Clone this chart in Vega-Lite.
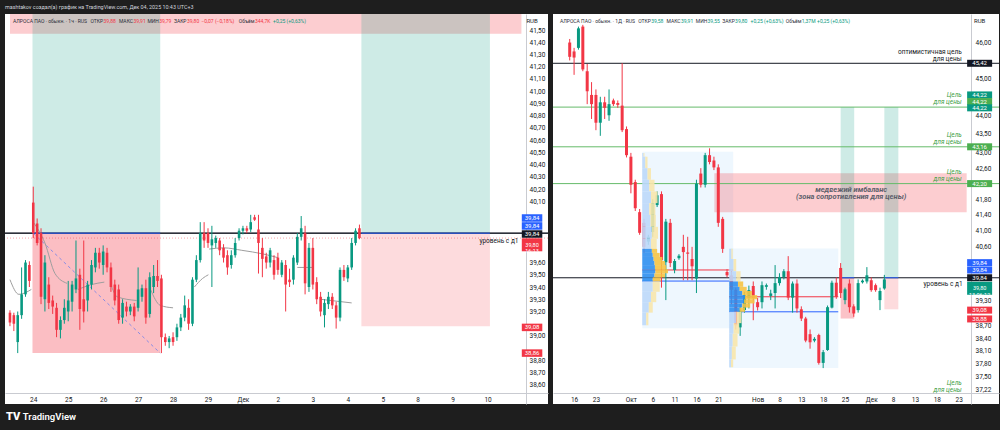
{
"$schema": "https://vega.github.io/schema/vega-lite/v6.json",
"background": "#1e1e1e",
"padding": {"left": 4, "right": 4, "top": 0, "bottom": 0},
"config": {"view": {"stroke": null}, "font": "Roboto", "axis": {"minExtent": 0, "labelFont": "Roboto"}, "text": {"font": "Roboto"}},
"datasets": {
"lc": [
{"j":-6,"o":39.19,"h":39.21,"l":39.08,"c":39.11},{"j":-5,"o":39.17,"h":39.19,"l":39.04,"c":39.10},{"j":-4,"o":38.95,"h":39.20,"l":38.86,"c":39.17},{"j":-3,"o":39.17,"h":39.56,"l":39.14,"c":39.34},{"j":-2,"o":39.34,"h":39.62,"l":39.32,"c":39.60},{"j":-1,"o":39.58,"h":39.61,"l":39.40,"c":39.45},
{"j":0,"o":40.09,"h":40.22,"l":39.80,"c":39.84},{"j":1,"o":39.92,"h":39.96,"l":39.74,"c":39.76},{"j":2,"o":39.84,"h":39.88,"l":39.26,"c":39.32},{"j":3,"o":39.30,"h":39.66,"l":39.20,"c":39.60},{"j":4,"o":39.42,"h":39.48,"l":39.22,"c":39.27},{"j":5,"o":39.29,"h":39.33,"l":39.18,"c":39.24},{"j":6,"o":39.23,"h":39.27,"l":38.99,"c":39.05},{"j":7,"o":39.05,"h":39.16,"l":38.98,"c":39.13},{"j":8,"o":39.13,"h":39.30,"l":39.10,"c":39.23},
{"j":9,"o":39.20,"h":39.45,"l":39.12,"c":39.29},{"j":10,"o":39.28,"h":39.45,"l":39.20,"c":39.42},{"j":11,"o":39.38,"h":39.78,"l":39.35,"c":39.47},{"j":12,"o":39.50,"h":39.55,"l":39.05,"c":39.22},{"j":13,"o":39.30,"h":39.78,"l":39.11,"c":39.20},{"j":14,"o":39.29,"h":39.45,"l":39.20,"c":39.42},{"j":15,"o":39.42,"h":39.62,"l":39.38,"c":39.58},{"j":16,"o":39.56,"h":39.72,"l":39.52,"c":39.68},{"j":17,"o":39.68,"h":39.72,"l":39.55,"c":39.60},
{"j":18,"o":39.58,"h":39.74,"l":39.50,"c":39.69},{"j":19,"o":39.68,"h":39.72,"l":39.52,"c":39.56},{"j":20,"o":39.56,"h":39.60,"l":39.36,"c":39.40},{"j":21,"o":39.42,"h":39.46,"l":39.25,"c":39.29},{"j":22,"o":39.38,"h":39.42,"l":39.10,"c":39.13},{"j":23,"o":39.15,"h":39.30,"l":39.10,"c":39.27},{"j":24,"o":39.24,"h":39.28,"l":39.16,"c":39.20},{"j":25,"o":39.20,"h":39.26,"l":39.17,"c":39.24},{"j":26,"o":39.24,"h":39.27,"l":39.12,"c":39.16},
{"j":27,"o":39.23,"h":39.56,"l":39.20,"c":39.38},{"j":28,"o":39.32,"h":39.42,"l":39.28,"c":39.39},{"j":29,"o":39.39,"h":39.46,"l":39.10,"c":39.15},{"j":30,"o":39.18,"h":39.52,"l":39.15,"c":39.48},{"j":31,"o":39.40,"h":39.58,"l":39.35,"c":39.49},{"j":32,"o":39.49,"h":39.62,"l":39.40,"c":39.45},{"j":33,"o":39.47,"h":39.50,"l":38.86,"c":38.99},{"j":34,"o":38.99,"h":39.02,"l":38.92,"c":38.95},{"j":35,"o":38.95,"h":39.00,"l":38.90,"c":38.98},
{"j":36,"o":38.99,"h":39.03,"l":38.92,"c":38.95},{"j":37,"o":38.99,"h":39.10,"l":38.96,"c":39.07},{"j":38,"o":39.07,"h":39.18,"l":39.04,"c":39.15},{"j":39,"o":39.15,"h":39.33,"l":39.12,"c":39.25},{"j":40,"o":39.23,"h":39.30,"l":39.05,"c":39.10},{"j":41,"o":39.10,"h":39.48,"l":39.08,"c":39.46},{"j":42,"o":39.46,"h":39.66,"l":39.44,"c":39.62},{"j":43,"o":39.62,"h":39.93,"l":39.60,"c":39.84},{"j":44,"o":39.84,"h":39.93,"l":39.72,"c":39.78},
{"j":45,"o":39.84,"h":39.88,"l":39.72,"c":39.76},{"j":46,"o":39.74,"h":39.90,"l":39.40,"c":39.79},{"j":47,"o":39.76,"h":39.82,"l":39.72,"c":39.80},{"j":48,"o":39.78,"h":39.80,"l":39.66,"c":39.70},{"j":49,"o":39.72,"h":39.75,"l":39.60,"c":39.64},{"j":50,"o":39.66,"h":39.70,"l":39.50,"c":39.56},{"j":51,"o":39.58,"h":39.70,"l":39.55,"c":39.66},{"j":52,"o":39.66,"h":39.80,"l":39.64,"c":39.76},{"j":53,"o":39.80,"h":39.88,"l":39.78,"c":39.86},
{"j":54,"o":39.86,"h":39.90,"l":39.83,"c":39.88},{"j":55,"o":39.88,"h":39.90,"l":39.84,"c":39.86},{"j":56,"o":39.87,"h":39.99,"l":39.85,"c":39.93},{"j":57,"o":39.97,"h":39.99,"l":39.94,"c":39.95},{"j":58,"o":39.87,"h":39.99,"l":39.51,"c":39.76},{"j":59,"o":39.72,"h":39.80,"l":39.48,"c":39.63},{"j":60,"o":39.65,"h":39.68,"l":39.55,"c":39.60},{"j":61,"o":39.60,"h":39.72,"l":39.56,"c":39.70},{"j":62,"o":39.62,"h":39.66,"l":39.46,"c":39.50},
{"j":63,"o":39.64,"h":39.68,"l":39.50,"c":39.54},{"j":64,"o":39.50,"h":39.62,"l":39.48,"c":39.60},{"j":65,"o":39.58,"h":39.62,"l":39.20,"c":39.42},{"j":66,"o":39.46,"h":39.55,"l":39.40,"c":39.44},{"j":67,"o":39.46,"h":39.66,"l":39.42,"c":39.64},{"j":68,"o":39.60,"h":39.84,"l":39.58,"c":39.81},{"j":69,"o":39.81,"h":39.98,"l":39.78,"c":39.88},{"j":70,"o":39.84,"h":39.90,"l":39.34,"c":39.43},{"j":71,"o":39.40,"h":39.76,"l":39.36,"c":39.72},
{"j":72,"o":39.72,"h":39.80,"l":39.38,"c":39.42},{"j":73,"o":39.44,"h":39.48,"l":39.26,"c":39.30},{"j":74,"o":39.32,"h":39.36,"l":39.16,"c":39.20},{"j":75,"o":39.17,"h":39.30,"l":39.07,"c":39.27},{"j":76,"o":39.26,"h":39.36,"l":39.22,"c":39.32},{"j":77,"o":39.32,"h":39.35,"l":39.22,"c":39.25},{"j":78,"o":39.25,"h":39.28,"l":39.06,"c":39.15},{"j":79,"o":39.15,"h":39.56,"l":39.12,"c":39.54},{"j":80,"o":39.54,"h":39.58,"l":39.45,"c":39.48},
{"j":81,"o":39.47,"h":39.58,"l":39.44,"c":39.56},{"j":82,"o":39.56,"h":39.80,"l":39.54,"c":39.76},{"j":83,"o":39.76,"h":39.88,"l":39.74,"c":39.86},{"j":84,"o":39.88,"h":39.91,"l":39.79,"c":39.80}
],
"vwap": [
{"s":"A","j":-6,"v":39.46},{"s":"A","j":-3.7,"v":39.34},{"s":"A","j":-0.5,"v":39.38},
{"s":"B","j":0,"v":39.93},{"s":"B","j":3,"v":39.76},{"s":"B","j":5.6,"v":39.51},{"s":"B","j":8.7,"v":39.43},
{"s":"C","j":11.5,"v":39.38},{"s":"C","j":15,"v":39.42},{"s":"C","j":18.3,"v":39.44},
{"s":"D","j":20,"v":39.42},{"s":"D","j":21.6,"v":39.32},{"s":"D","j":26.6,"v":39.29},
{"s":"E","j":30.2,"v":39.38},{"s":"E","j":32.7,"v":39.25},{"s":"E","j":36,"v":39.23},
{"s":"F","j":41.5,"v":39.40},{"s":"F","j":43.6,"v":39.47},{"s":"F","j":45.1,"v":39.50},
{"s":"G","j":45.3,"v":39.71},{"s":"G","j":49.1,"v":39.72},{"s":"G","j":53.7,"v":39.70},{"s":"G","j":59.2,"v":39.67},{"s":"G","j":63,"v":39.64},
{"s":"H","j":68,"v":39.56},{"s":"H","j":72.1,"v":39.56},
{"s":"I","j":73.9,"v":39.30},{"s":"I","j":82,"v":39.27}
],
"limb": [{"x0":-5.99,"x1":125.71,"lo":41.47,"hi":42.47}],
"rimb": [{"x0":33.1,"x1":90.83,"lo":41.47,"hi":42.47}],
"ldiag": [{"x0":0,"x1":32.7,"p0":39.84,"p1":38.86}],
"ltools": [{"t":1,"l":-0.2,"r":32.7,"entry":39.84,"target":44.22,"stop":38.86},{"t":2,"l":84.5,"r":117.6,"entry":39.84,"target":44.22,"stop":39.08}],
"rtools": [{"t":1,"l":62.0,"r":65.1,"entry":39.84,"target":44.22,"stop":38.86},{"t":2,"l":72.0,"r":75.2,"entry":39.84,"target":44.22,"stop":39.08}],
"ltags": [{"v":39.964,"txt":"39,84","k":"blue"},{"v":39.899,"txt":"39,84","k":"blue"},{"v":39.833,"txt":"39,84","k":"black"},{"v":39.07,"txt":"39,08","k":"red"},{"v":38.86,"txt":"38,86","k":"red"}],
"ltags2": [{"v":39.745,"txt":"39,80\n16:13","k":"red"}],
"rtags": [{"v":45.42,"txt":"45,42","k":"black"},{"v":44.55,"txt":"44,22","k":"teal"},{"v":44.37,"txt":"44,22","k":"green"},{"v":44.20,"txt":"44,22","k":"teal"},{"v":43.16,"txt":"43,16","k":"green"},{"v":42.20,"txt":"42,20","k":"green"},{"v":40.21,"txt":"39,84","k":"blue"},{"v":40.03,"txt":"39,84","k":"blue"},{"v":39.84,"txt":"39,84","k":"black"},{"v":39.06,"txt":"39,08","k":"red"},{"v":38.85,"txt":"38,88","k":"red"}],
"rtags2": [{"v":39.585,"txt":"39,80\n13:06:12","k":"teal"}],
"rlevels": [{"p":45.42,"kind":"opt"},{"p":44.22,"kind":"target"},{"p":43.16,"kind":"target"},{"p":42.20,"kind":"target"},{"p":39.84,"kind":"level"}],
"rtargets": [{"p":44.22},{"p":43.16},{"p":42.20},{"p":37.085}],
"rbox": [{"x0":16.6,"x1":37.4,"lo":38.63,"hi":43.03},{"x0":36.5,"x1":61.45,"lo":37.70,"hi":40.56}],
"rpoc": [{"x0":16.6,"x1":37.4,"p":40.03,"kind":"poc"},{"x0":16.6,"x1":37.4,"p":39.76,"kind":"va"},{"x0":36.5,"x1":61.45,"p":39.38,"kind":"poc"},{"x0":36.5,"x1":61.45,"p":39.02,"kind":"va"}],
"prof": [
{"x0":16.6,"x1":16.9,"lo":42.9,"hi":43.0,"part":"upP"},{"x0":16.9,"x1":17.1,"lo":42.9,"hi":43.0,"part":"dnP"},
{"x0":16.6,"x1":17.3,"lo":42.6,"hi":42.9,"part":"upP"},{"x0":17.3,"x1":17.8,"lo":42.6,"hi":42.9,"part":"dnP"},
{"x0":16.6,"x1":17.8,"lo":42.3,"hi":42.6,"part":"upP"},{"x0":17.8,"x1":18.6,"lo":42.3,"hi":42.6,"part":"dnP"},
{"x0":16.6,"x1":18.2,"lo":42.0,"hi":42.3,"part":"upP"},{"x0":18.2,"x1":19.4,"lo":42.0,"hi":42.3,"part":"dnP"},
{"x0":16.6,"x1":18.6,"lo":41.7,"hi":42.0,"part":"upP"},{"x0":18.6,"x1":20.1,"lo":41.7,"hi":42.0,"part":"dnP"},
{"x0":16.6,"x1":18.2,"lo":41.4,"hi":41.7,"part":"upP"},{"x0":18.2,"x1":19.6,"lo":41.4,"hi":41.7,"part":"dnP"},
{"x0":16.6,"x1":18.5,"lo":41.1,"hi":41.4,"part":"upP"},{"x0":18.5,"x1":19.7,"lo":41.1,"hi":41.4,"part":"dnP"},
{"x0":16.6,"x1":18.8,"lo":40.8,"hi":41.1,"part":"upP"},{"x0":18.8,"x1":20.2,"lo":40.8,"hi":41.1,"part":"dnP"},
{"x0":16.6,"x1":18.6,"lo":40.55,"hi":40.8,"part":"upP"},{"x0":18.6,"x1":19.9,"lo":40.55,"hi":40.8,"part":"dnP"},
{"x0":16.6,"x1":18.8,"lo":40.45,"hi":40.55,"part":"up"},{"x0":18.8,"x1":20.0,"lo":40.45,"hi":40.55,"part":"dn"},
{"x0":16.6,"x1":19.0,"lo":40.35,"hi":40.45,"part":"up"},{"x0":19.0,"x1":20.6,"lo":40.35,"hi":40.45,"part":"dn"},
{"x0":16.6,"x1":19.2,"lo":40.25,"hi":40.35,"part":"up"},{"x0":19.2,"x1":21.2,"lo":40.25,"hi":40.35,"part":"dn"},
{"x0":16.6,"x1":19.4,"lo":40.15,"hi":40.25,"part":"up"},{"x0":19.4,"x1":21.8,"lo":40.15,"hi":40.25,"part":"dn"},
{"x0":16.6,"x1":19.5,"lo":40.05,"hi":40.15,"part":"up"},{"x0":19.5,"x1":22.1,"lo":40.05,"hi":40.15,"part":"dn"},
{"x0":16.6,"x1":19.6,"lo":39.95,"hi":40.05,"part":"up"},{"x0":19.6,"x1":22.5,"lo":39.95,"hi":40.05,"part":"dn"},
{"x0":16.6,"x1":19.4,"lo":39.85,"hi":39.95,"part":"up"},{"x0":19.4,"x1":21.8,"lo":39.85,"hi":39.95,"part":"dn"},
{"x0":16.6,"x1":19.0,"lo":39.75,"hi":39.85,"part":"up"},{"x0":19.0,"x1":20.8,"lo":39.75,"hi":39.85,"part":"dn"},
{"x0":16.6,"x1":19.0,"lo":39.5,"hi":39.75,"part":"upP"},{"x0":19.0,"x1":20.6,"lo":39.5,"hi":39.75,"part":"dnP"},
{"x0":16.6,"x1":18.6,"lo":39.25,"hi":39.5,"part":"upP"},{"x0":18.6,"x1":19.8,"lo":39.25,"hi":39.5,"part":"dnP"},
{"x0":16.6,"x1":18.1,"lo":39.0,"hi":39.25,"part":"upP"},{"x0":18.1,"x1":19.0,"lo":39.0,"hi":39.25,"part":"dnP"},
{"x0":16.6,"x1":17.5,"lo":38.7,"hi":39.0,"part":"upP"},{"x0":17.5,"x1":18.0,"lo":38.7,"hi":39.0,"part":"dnP"},
{"x0":36.5,"x1":37.0,"lo":40.3,"hi":40.55,"part":"upP"},{"x0":37.0,"x1":37.3,"lo":40.3,"hi":40.55,"part":"dnP"},
{"x0":36.5,"x1":37.5,"lo":40.0,"hi":40.3,"part":"upP"},{"x0":37.5,"x1":38.1,"lo":40.0,"hi":40.3,"part":"dnP"},
{"x0":36.5,"x1":38.1,"lo":39.75,"hi":40.0,"part":"upP"},{"x0":38.1,"x1":39.1,"lo":39.75,"hi":40.0,"part":"dnP"},
{"x0":36.5,"x1":38.5,"lo":39.62,"hi":39.75,"part":"up"},{"x0":38.5,"x1":39.7,"lo":39.62,"hi":39.75,"part":"dn"},
{"x0":36.5,"x1":38.9,"lo":39.52,"hi":39.62,"part":"up"},{"x0":38.9,"x1":40.5,"lo":39.52,"hi":39.62,"part":"dn"},
{"x0":36.5,"x1":39.5,"lo":39.42,"hi":39.52,"part":"up"},{"x0":39.5,"x1":41.7,"lo":39.42,"hi":39.52,"part":"dn"},
{"x0":36.5,"x1":40.1,"lo":39.32,"hi":39.42,"part":"up"},{"x0":40.1,"x1":42.9,"lo":39.32,"hi":39.42,"part":"dn"},
{"x0":36.5,"x1":39.9,"lo":39.22,"hi":39.32,"part":"up"},{"x0":39.9,"x1":42.3,"lo":39.22,"hi":39.32,"part":"dn"},
{"x0":36.5,"x1":39.5,"lo":39.12,"hi":39.22,"part":"up"},{"x0":39.5,"x1":41.3,"lo":39.12,"hi":39.22,"part":"dn"},
{"x0":36.5,"x1":38.9,"lo":39.02,"hi":39.12,"part":"up"},{"x0":38.9,"x1":40.1,"lo":39.02,"hi":39.12,"part":"dn"},
{"x0":36.5,"x1":38.1,"lo":38.75,"hi":39.02,"part":"upP"},{"x0":38.1,"x1":39.3,"lo":38.75,"hi":39.02,"part":"dnP"},
{"x0":36.5,"x1":37.5,"lo":38.5,"hi":38.75,"part":"upP"},{"x0":37.5,"x1":38.8,"lo":38.5,"hi":38.75,"part":"dnP"},
{"x0":36.5,"x1":37.3,"lo":38.2,"hi":38.5,"part":"upP"},{"x0":37.3,"x1":38.4,"lo":38.2,"hi":38.5,"part":"dnP"},
{"x0":36.5,"x1":37.1,"lo":37.9,"hi":38.2,"part":"upP"},{"x0":37.1,"x1":38.0,"lo":37.9,"hi":38.2,"part":"dnP"},
{"x0":36.5,"x1":36.9,"lo":37.72,"hi":37.9,"part":"upP"},{"x0":36.9,"x1":37.4,"lo":37.72,"hi":37.9,"part":"dnP"}
],
"rc": [
{"k":0,"o":46.00,"h":46.10,"l":45.50,"c":45.60},{"k":1,"o":45.75,"h":45.85,"l":45.10,"c":45.58},{"k":2,"o":45.85,"h":46.45,"l":45.80,"c":46.40},{"k":3,"o":46.45,"h":46.50,"l":45.20,"c":45.25},{"k":4,"o":45.20,"h":45.40,"l":44.30,"c":44.65},{"k":5,"o":44.55,"h":44.90,"l":43.90,"c":44.30},{"k":6,"o":44.55,"h":44.70,"l":43.60,"c":43.80},{"k":7,"o":43.80,"h":44.50,"l":43.45,"c":44.35},{"k":8,"o":44.35,"h":44.50,"l":43.90,"c":44.20},{"k":9,"o":44.00,"h":44.70,"l":43.85,"c":44.30},
{"k":10,"o":44.40,"h":44.45,"l":44.25,"c":44.30},{"k":11,"o":44.33,"h":44.40,"l":44.20,"c":44.28},{"k":12,"o":44.26,"h":45.42,"l":43.55,"c":43.60},{"k":13,"o":43.63,"h":43.70,"l":42.88,"c":42.94},{"k":14,"o":42.90,"h":43.00,"l":41.95,"c":42.17},{"k":15,"o":42.24,"h":42.30,"l":41.50,"c":41.57},{"k":16,"o":41.47,"h":41.55,"l":40.90,"c":40.95},{"k":17,"o":41.20,"h":41.30,"l":40.45,"c":40.60},{"k":18,"o":40.73,"h":40.90,"l":40.65,"c":40.85},{"k":19,"o":40.97,"h":41.80,"l":40.85,"c":41.70},
{"k":20,"o":41.65,"h":42.00,"l":41.60,"c":41.90},{"k":21,"o":41.93,"h":42.00,"l":39.60,"c":40.27},{"k":22,"o":40.22,"h":41.30,"l":39.30,"c":41.23},{"k":23,"o":41.20,"h":41.30,"l":40.10,"c":40.20},{"k":24,"o":40.03,"h":40.30,"l":39.95,"c":40.25},{"k":25,"o":40.32,"h":40.42,"l":40.28,"c":40.38},{"k":26,"o":40.60,"h":40.90,"l":39.78,"c":40.47},{"k":27,"o":40.46,"h":40.85,"l":39.78,"c":40.43},{"k":28,"o":40.30,"h":40.60,"l":39.78,"c":40.12},{"k":29,"o":39.82,"h":42.30,"l":39.47,"c":42.20},
{"k":30,"o":42.46,"h":42.60,"l":42.10,"c":42.17},{"k":31,"o":42.17,"h":43.00,"l":42.10,"c":42.94},{"k":32,"o":42.94,"h":43.12,"l":42.70,"c":42.76},{"k":33,"o":42.80,"h":42.90,"l":42.55,"c":42.62},{"k":34,"o":42.62,"h":42.70,"l":41.10,"c":41.20},{"k":35,"o":41.30,"h":41.35,"l":40.45,"c":40.55},{"k":36,"o":39.98,"h":40.05,"l":39.85,"c":39.90},{"k":37,"o":39.90,"h":40.00,"l":39.20,"c":39.55},{"k":38,"o":39.55,"h":39.60,"l":38.60,"c":38.70},{"k":39,"o":38.65,"h":39.20,"l":38.45,"c":39.05},
{"k":40,"o":39.06,"h":39.50,"l":39.00,"c":39.42},{"k":41,"o":39.35,"h":39.65,"l":39.10,"c":39.54},{"k":42,"o":39.64,"h":39.75,"l":38.82,"c":39.35},{"k":43,"o":39.25,"h":39.35,"l":39.05,"c":39.13},{"k":44,"o":39.25,"h":39.75,"l":39.10,"c":39.66},{"k":45,"o":39.62,"h":39.70,"l":39.55,"c":39.66},{"k":46,"o":39.40,"h":39.55,"l":39.30,"c":39.46},{"k":47,"o":39.47,"h":40.15,"l":39.10,"c":39.71},{"k":48,"o":39.71,"h":39.95,"l":39.65,"c":39.86},{"k":49,"o":39.86,"h":40.05,"l":39.80,"c":40.00},
{"k":50,"o":40.00,"h":40.37,"l":39.30,"c":39.36},{"k":51,"o":39.36,"h":39.75,"l":39.00,"c":39.70},{"k":52,"o":39.70,"h":39.80,"l":39.00,"c":39.10},{"k":53,"o":39.08,"h":39.15,"l":38.80,"c":38.86},{"k":54,"o":38.86,"h":38.90,"l":38.30,"c":38.34},{"k":55,"o":38.49,"h":38.60,"l":38.15,"c":38.30},{"k":56,"o":38.34,"h":38.42,"l":38.30,"c":38.38},{"k":57,"o":38.47,"h":38.50,"l":37.78,"c":37.82},{"k":58,"o":37.82,"h":38.12,"l":37.70,"c":38.07},{"k":59,"o":38.12,"h":39.17,"l":38.10,"c":39.13},
{"k":60,"o":39.12,"h":39.77,"l":39.10,"c":39.72},{"k":61,"o":39.72,"h":39.85,"l":39.33,"c":39.38},{"k":62,"o":40.08,"h":40.20,"l":39.35,"c":39.47},{"k":63,"o":39.30,"h":39.60,"l":39.20,"c":39.56},{"k":64,"o":39.70,"h":39.80,"l":39.00,"c":39.13},{"k":65,"o":39.15,"h":39.20,"l":38.90,"c":38.98},{"k":66,"o":39.06,"h":39.80,"l":39.00,"c":39.71},{"k":67,"o":39.73,"h":39.80,"l":39.70,"c":39.77},{"k":68,"o":39.75,"h":40.10,"l":39.70,"c":39.90},{"k":69,"o":39.78,"h":39.85,"l":39.50,"c":39.54},
{"k":70,"o":39.66,"h":39.70,"l":39.50,"c":39.54},{"k":71,"o":39.30,"h":39.60,"l":39.06,"c":39.52},{"k":72,"o":39.58,"h":39.91,"l":39.55,"c":39.80}
]
},
"spacing": 0,
"vconcat": [
{
"width": 992, "height": 14,
"data": {"values": [{"t": "mashtakov создал(а) график на TradingView.com, Дек 04, 2025 10:43 UTC+3"}]},
"mark": {"type": "text", "align": "left", "baseline": "middle", "fontSize": 5.4, "color": "#d1d4dc"},
"encoding": {
"x": {"datum": 0, "type": "quantitative", "scale": {"domain": [0, 1]}, "axis": null},
"y": {"datum": 0.5, "type": "quantitative", "scale": {"domain": [0, 1]}, "axis": null},
"text": {"field": "t", "type": "nominal"}
}
},
{
"spacing": 3,
"hconcat": [
{
"width": 543, "height": 390,
"view": {"fill": "white", "stroke": null},
"layer": [
{"data": {"name": "limb"}, "mark": {"type": "rect", "color": "#f23645", "opacity": 0.25, "clip": true},
 "encoding": {"x": {"field": "x0", "type": "quantitative", "scale": {"domain": [-5.99, 131.27], "nice": false, "zero": false}}, "x2": {"field": "x1"},
  "y": {"field": "lo", "type": "quantitative", "scale": {"domain": [38.444, 41.631], "nice": false, "zero": false}}, "y2": {"field": "hi"}}},
{"data": {"name": "ltools"}, "mark": {"type": "rect", "color": "#089981", "opacity": 0.2, "clip": true},
 "encoding": {"x": {"field": "l", "type": "quantitative", "scale": {"domain": [-5.99, 131.27], "nice": false, "zero": false}}, "x2": {"field": "r"},
  "y": {"field": "entry", "type": "quantitative", "scale": {"domain": [38.444, 41.631], "nice": false, "zero": false}}, "y2": {"field": "target"}}},
{"data": {"name": "ltools"}, "mark": {"type": "rect", "color": "#f23645", "clip": true},
 "encoding": {"x": {"field": "l", "type": "quantitative", "scale": {"domain": [-5.99, 131.27], "nice": false, "zero": false}}, "x2": {"field": "r"},
  "y": {"field": "entry", "type": "quantitative", "scale": {"domain": [38.444, 41.631], "nice": false, "zero": false}}, "y2": {"field": "stop"},
  "opacity": {"condition": {"test": "datum.t == 1", "value": 0.32}, "value": 0.18}}},
{"data": {"name": "ltools"}, "mark": {"type": "rule", "color": "#131722", "strokeWidth": 1},
 "encoding": {"y": {"field": "entry", "type": "quantitative", "scale": {"domain": [38.444, 41.631], "nice": false, "zero": false}}}},
{"data": {"values": [{"p": 39.80}]}, "mark": {"type": "rule", "color": "#f23645", "strokeWidth": 1, "opacity": 0.45, "strokeDash": [1, 2]},
 "encoding": {"y": {"field": "p", "type": "quantitative", "scale": {"domain": [38.444, 41.631], "nice": false, "zero": false}}}},
{"data": {"name": "ltools"}, "mark": {"type": "rule", "color": "#2962ff", "strokeWidth": 1},
 "encoding": {"x": {"field": "l", "type": "quantitative", "scale": {"domain": [-5.99, 131.27], "nice": false, "zero": false}}, "x2": {"field": "r"},
  "y": {"field": "entry", "type": "quantitative", "scale": {"domain": [38.444, 41.631], "nice": false, "zero": false}}}},
{"data": {"name": "ldiag"}, "mark": {"type": "rule", "color": "#2962ff", "strokeWidth": 1, "opacity": 0.55, "strokeDash": [3, 3]},
 "encoding": {"x": {"field": "x0", "type": "quantitative", "scale": {"domain": [-5.99, 131.27], "nice": false, "zero": false}}, "x2": {"field": "x1"},
  "y": {"field": "p0", "type": "quantitative", "scale": {"domain": [38.444, 41.631], "nice": false, "zero": false}}, "y2": {"field": "p1"}}},
{"data": {"name": "vwap"}, "mark": {"type": "line", "color": "#9e9e9e", "strokeWidth": 1, "interpolate": "monotone"},
 "encoding": {"x": {"field": "j", "type": "quantitative", "scale": {"domain": [-5.99, 131.27], "nice": false, "zero": false}},
  "y": {"field": "v", "type": "quantitative", "scale": {"domain": [38.444, 41.631], "nice": false, "zero": false}}, "detail": {"field": "s", "type": "nominal"}}},
{"data": {"name": "lc"}, "mark": {"type": "rule", "strokeWidth": 1},
 "encoding": {
  "x": {"field": "j", "type": "quantitative", "scale": {"domain": [-5.99, 131.27], "nice": false, "zero": false},
   "axis": {"orient": "bottom", "offset": -11, "values": [0,9,18,27,36,45,54,63,72,81,90,99,108,117], "tickCount": 200, "labelExpr": "['24','25','26','27','28','29','Дек','2','3','4','5','8','9','10'][round(datum.value/9)]", "title": null, "ticks": false, "tickSize": 0, "grid": false, "domainColor": "#c9cbd1", "labelColor": "#131722", "labelFontSize": 6.5, "labelPadding": 3, "labelOverlap": false, "labelFlush": false, "minExtent": 0}},
  "y": {"field": "l", "type": "quantitative", "scale": {"domain": [38.444, 41.631], "nice": false, "zero": false},
   "axis": {"orient": "right", "offset": -22, "values": [38.6,38.7,38.8,39.0,39.2,39.3,39.4,39.5,39.6,40.1,40.2,40.3,40.4,40.5,40.6,40.7,40.8,40.9,41.0,41.1,41.2,41.3,41.4,41.5], "tickCount": 200, "labelExpr": "replace(format(datum.value, '.2f'), '.', ',')", "title": null, "ticks": false, "tickSize": 0, "grid": false, "domainColor": "#c9cbd1", "labelColor": "#131722", "labelFontSize": 6.5, "labelPadding": 3, "labelOverlap": false, "labelFlush": false, "minExtent": 0}},
  "y2": {"field": "h"},
  "color": {"condition": {"test": "datum.c >= datum.o", "value": "#089981"}, "value": "#f23645"}}},
{"data": {"name": "lc"}, "mark": {"type": "bar", "size": 2.6},
 "encoding": {"x": {"field": "j", "type": "quantitative", "scale": {"domain": [-5.99, 131.27], "nice": false, "zero": false}},
  "y": {"field": "o", "type": "quantitative", "scale": {"domain": [38.444, 41.631], "nice": false, "zero": false}}, "y2": {"field": "c"},
  "color": {"condition": {"test": "datum.c >= datum.o", "value": "#089981"}, "value": "#f23645"}}},
{"data": {"values": [{}]}, "mark": {"type": "text", "align": "left", "baseline": "middle", "fontSize": 5, "color": "#2a2e39", "text": "АЛРОСА ПАО · обыкн. · 1ч · RUS"},
 "encoding": {"x": {"datum": -5.23, "type": "quantitative", "scale": {"domain": [-5.99, 131.27], "nice": false, "zero": false}}, "y": {"datum": 41.574, "type": "quantitative", "scale": {"domain": [38.444, 41.631], "nice": false, "zero": false}}}},
{"data": {"values": [{}]}, "mark": {"type": "text", "align": "left", "baseline": "middle", "fontSize": 5, "color": "#2a2e39", "text": "ОТКР"},
 "encoding": {"x": {"datum": 14.74, "type": "quantitative", "scale": {"domain": [-5.99, 131.27], "nice": false, "zero": false}}, "y": {"datum": 41.574, "type": "quantitative", "scale": {"domain": [38.444, 41.631], "nice": false, "zero": false}}}},
{"data": {"values": [{}]}, "mark": {"type": "text", "align": "left", "baseline": "middle", "fontSize": 5, "color": "#f23645", "text": "39,88"},
 "encoding": {"x": {"datum": 18.10, "type": "quantitative", "scale": {"domain": [-5.99, 131.27], "nice": false, "zero": false}}, "y": {"datum": 41.574, "type": "quantitative", "scale": {"domain": [38.444, 41.631], "nice": false, "zero": false}}}},
{"data": {"values": [{}]}, "mark": {"type": "text", "align": "left", "baseline": "middle", "fontSize": 5, "color": "#2a2e39", "text": "МАКС"},
 "encoding": {"x": {"datum": 22.07, "type": "quantitative", "scale": {"domain": [-5.99, 131.27], "nice": false, "zero": false}}, "y": {"datum": 41.574, "type": "quantitative", "scale": {"domain": [38.444, 41.631], "nice": false, "zero": false}}}},
{"data": {"values": [{}]}, "mark": {"type": "text", "align": "left", "baseline": "middle", "fontSize": 5, "color": "#f23645", "text": "39,91"},
 "encoding": {"x": {"datum": 25.81, "type": "quantitative", "scale": {"domain": [-5.99, 131.27], "nice": false, "zero": false}}, "y": {"datum": 41.574, "type": "quantitative", "scale": {"domain": [38.444, 41.631], "nice": false, "zero": false}}}},
{"data": {"values": [{}]}, "mark": {"type": "text", "align": "left", "baseline": "middle", "fontSize": 5, "color": "#2a2e39", "text": "МИН"},
 "encoding": {"x": {"datum": 29.4, "type": "quantitative", "scale": {"domain": [-5.99, 131.27], "nice": false, "zero": false}}, "y": {"datum": 41.574, "type": "quantitative", "scale": {"domain": [38.444, 41.631], "nice": false, "zero": false}}}},
{"data": {"values": [{}]}, "mark": {"type": "text", "align": "left", "baseline": "middle", "fontSize": 5, "color": "#f23645", "text": "39,79"},
 "encoding": {"x": {"datum": 32.43, "type": "quantitative", "scale": {"domain": [-5.99, 131.27], "nice": false, "zero": false}}, "y": {"datum": 41.574, "type": "quantitative", "scale": {"domain": [38.444, 41.631], "nice": false, "zero": false}}}},
{"data": {"values": [{}]}, "mark": {"type": "text", "align": "left", "baseline": "middle", "fontSize": 5, "color": "#2a2e39", "text": "ЗАКР"},
 "encoding": {"x": {"datum": 36.22, "type": "quantitative", "scale": {"domain": [-5.99, 131.27], "nice": false, "zero": false}}, "y": {"datum": 41.574, "type": "quantitative", "scale": {"domain": [38.444, 41.631], "nice": false, "zero": false}}}},
{"data": {"values": [{}]}, "mark": {"type": "text", "align": "left", "baseline": "middle", "fontSize": 5, "color": "#f23645", "text": "39,80"},
 "encoding": {"x": {"datum": 39.59, "type": "quantitative", "scale": {"domain": [-5.99, 131.27], "nice": false, "zero": false}}, "y": {"datum": 41.574, "type": "quantitative", "scale": {"domain": [38.444, 41.631], "nice": false, "zero": false}}}},
{"data": {"values": [{}]}, "mark": {"type": "text", "align": "left", "baseline": "middle", "fontSize": 5, "color": "#f23645", "text": "−0,07 (−0,18%)"},
 "encoding": {"x": {"datum": 43.3, "type": "quantitative", "scale": {"domain": [-5.99, 131.27], "nice": false, "zero": false}}, "y": {"datum": 41.574, "type": "quantitative", "scale": {"domain": [38.444, 41.631], "nice": false, "zero": false}}}},
{"data": {"values": [{}]}, "mark": {"type": "text", "align": "left", "baseline": "middle", "fontSize": 5, "color": "#2a2e39", "text": "Объём"},
 "encoding": {"x": {"datum": 52.91, "type": "quantitative", "scale": {"domain": [-5.99, 131.27], "nice": false, "zero": false}}, "y": {"datum": 41.574, "type": "quantitative", "scale": {"domain": [38.444, 41.631], "nice": false, "zero": false}}}},
{"data": {"values": [{}]}, "mark": {"type": "text", "align": "left", "baseline": "middle", "fontSize": 5, "color": "#f23645", "text": "344,7K"},
 "encoding": {"x": {"datum": 57.1, "type": "quantitative", "scale": {"domain": [-5.99, 131.27], "nice": false, "zero": false}}, "y": {"datum": 41.574, "type": "quantitative", "scale": {"domain": [38.444, 41.631], "nice": false, "zero": false}}}},
{"data": {"values": [{}]}, "mark": {"type": "text", "align": "left", "baseline": "middle", "fontSize": 5, "color": "#089981", "text": "+0,25 (+0,63%)"},
 "encoding": {"x": {"datum": 61.76, "type": "quantitative", "scale": {"domain": [-5.99, 131.27], "nice": false, "zero": false}}, "y": {"datum": 41.574, "type": "quantitative", "scale": {"domain": [38.444, 41.631], "nice": false, "zero": false}}}},
{"data": {"values": [{}]}, "mark": {"type": "text", "align": "right", "baseline": "middle", "fontSize": 6.5, "color": "#131722", "text": "уровень с д1"},
 "encoding": {"x": {"datum": 124.95, "type": "quantitative", "scale": {"domain": [-5.99, 131.27], "nice": false, "zero": false}}, "y": {"datum": 39.78, "type": "quantitative", "scale": {"domain": [38.444, 41.631], "nice": false, "zero": false}}}},
{"data": {"values": [{}]}, "mark": {"type": "text", "align": "center", "baseline": "middle", "fontSize": 6, "color": "#131722", "text": "RUB"},
 "encoding": {"x": {"datum": 128.45, "type": "quantitative", "scale": {"domain": [-5.99, 131.27], "nice": false, "zero": false}}, "y": {"datum": 41.574, "type": "quantitative", "scale": {"domain": [38.444, 41.631], "nice": false, "zero": false}}}},
{"data": {"name": "ltags"}, "mark": {"type": "tick", "orient": "horizontal", "size": 20.5, "thickness": 7.5, "opacity": 1},
 "encoding": {"x": {"datum": 128.45, "type": "quantitative", "scale": {"domain": [-5.99, 131.27], "nice": false, "zero": false}},
  "y": {"field": "v", "type": "quantitative", "scale": {"domain": [38.444, 41.631], "nice": false, "zero": false}},
  "color": {"field": "k", "type": "nominal", "scale": {"domain": ["blue", "black", "red", "green", "teal"], "range": ["#2962ff", "#131722", "#f23645", "#4caf50", "#089981"]}, "legend": null}}},
{"data": {"name": "ltags2"}, "mark": {"type": "tick", "orient": "horizontal", "size": 20.5, "thickness": 13, "opacity": 1},
 "encoding": {"x": {"datum": 128.45, "type": "quantitative", "scale": {"domain": [-5.99, 131.27], "nice": false, "zero": false}},
  "y": {"field": "v", "type": "quantitative", "scale": {"domain": [38.444, 41.631], "nice": false, "zero": false}},
  "color": {"field": "k", "type": "nominal", "scale": {"domain": ["blue", "black", "red", "green", "teal"], "range": ["#2962ff", "#131722", "#f23645", "#4caf50", "#089981"]}, "legend": null}}},
{"data": {"name": "ltags"}, "mark": {"type": "text", "align": "center", "baseline": "middle", "fontSize": 6, "color": "white"},
 "encoding": {"x": {"datum": 128.45, "type": "quantitative", "scale": {"domain": [-5.99, 131.27], "nice": false, "zero": false}},
  "y": {"field": "v", "type": "quantitative", "scale": {"domain": [38.444, 41.631], "nice": false, "zero": false}}, "text": {"field": "txt", "type": "nominal"}}},
{"data": {"name": "ltags2"}, "mark": {"type": "text", "align": "center", "baseline": "middle", "fontSize": 5.5, "color": "white", "lineBreak": "\n", "lineHeight": 6.3},
 "encoding": {"x": {"datum": 128.45, "type": "quantitative", "scale": {"domain": [-5.99, 131.27], "nice": false, "zero": false}},
  "y": {"field": "v", "type": "quantitative", "scale": {"domain": [38.444, 41.631], "nice": false, "zero": false}}, "text": {"field": "txt", "type": "nominal"}}}
]
},
{
"width": 446, "height": 390,
"view": {"fill": "white", "stroke": null},
"layer": [
{"data": {"name": "rbox"}, "mark": {"type": "rect", "color": "#2196f3", "opacity": 0.08},
 "encoding": {"x": {"field": "x0", "type": "quantitative", "scale": {"domain": [-2.68, 97.09], "nice": false, "zero": false}}, "x2": {"field": "x1"},
  "y": {"field": "lo", "type": "quantitative", "scale": {"type": "log", "domain": [36.882, 46.809], "nice": false}}, "y2": {"field": "hi"}}},
{"data": {"name": "rimb"}, "mark": {"type": "rect", "color": "#f23645", "opacity": 0.25},
 "encoding": {"x": {"field": "x0", "type": "quantitative", "scale": {"domain": [-2.68, 97.09], "nice": false, "zero": false}}, "x2": {"field": "x1"},
  "y": {"field": "lo", "type": "quantitative", "scale": {"type": "log", "domain": [36.882, 46.809], "nice": false}}, "y2": {"field": "hi"}}},
{"data": {"name": "rtools"}, "mark": {"type": "rect", "color": "#089981", "opacity": 0.2},
 "encoding": {"x": {"field": "l", "type": "quantitative", "scale": {"domain": [-2.68, 97.09], "nice": false, "zero": false}}, "x2": {"field": "r"},
  "y": {"field": "entry", "type": "quantitative", "scale": {"type": "log", "domain": [36.882, 46.809], "nice": false}}, "y2": {"field": "target"}}},
{"data": {"name": "rtools"}, "mark": {"type": "rect", "color": "#f23645"},
 "encoding": {"x": {"field": "l", "type": "quantitative", "scale": {"domain": [-2.68, 97.09], "nice": false, "zero": false}}, "x2": {"field": "r"},
  "y": {"field": "entry", "type": "quantitative", "scale": {"type": "log", "domain": [36.882, 46.809], "nice": false}}, "y2": {"field": "stop"},
  "opacity": {"condition": {"test": "datum.t == 1", "value": 0.3}, "value": 0.18}}},
{"data": {"name": "rlevels"}, "mark": {"type": "rule", "strokeWidth": 1},
 "encoding": {"y": {"field": "p", "type": "quantitative", "scale": {"type": "log", "domain": [36.882, 46.809], "nice": false}},
  "color": {"condition": {"test": "datum.kind == 'target'", "value": "#66bb6a"}, "value": "#131722"}}},
{"data": {"name": "rtools"}, "mark": {"type": "rule", "color": "#2962ff", "strokeWidth": 1},
 "encoding": {"x": {"field": "l", "type": "quantitative", "scale": {"domain": [-2.68, 97.09], "nice": false, "zero": false}}, "x2": {"field": "r"},
  "y": {"field": "entry", "type": "quantitative", "scale": {"type": "log", "domain": [36.882, 46.809], "nice": false}}}},
{"data": {"name": "rpoc"}, "mark": {"type": "rule", "strokeWidth": 1},
 "encoding": {"x": {"field": "x0", "type": "quantitative", "scale": {"domain": [-2.68, 97.09], "nice": false, "zero": false}}, "x2": {"field": "x1"},
  "y": {"field": "p", "type": "quantitative", "scale": {"type": "log", "domain": [36.882, 46.809], "nice": false}},
  "color": {"condition": {"test": "datum.kind == 'poc'", "value": "#f23645"}, "value": "#2962ff"}}},
{"data": {"name": "rc"}, "mark": {"type": "rule", "strokeWidth": 1},
 "encoding": {
  "x": {"field": "k", "type": "quantitative", "scale": {"domain": [-2.68, 97.09], "nice": false, "zero": false},
   "axis": {"orient": "bottom", "offset": -11, "values": [1,6,14,19,24,29,34,43,48,53,58,63,69,74,79,84,89], "tickCount": 200, "labelExpr": "['16','23','Окт','6','11','16','21','Нов','8','13','18','25','Дек','8','13','18','23'][indexof([1,6,14,19,24,29,34,43,48,53,58,63,69,74,79,84,89], datum.value)]", "title": null, "ticks": false, "tickSize": 0, "grid": false, "domainColor": "#c9cbd1", "labelColor": "#131722", "labelFontSize": 6.5, "labelPadding": 3, "labelOverlap": false, "labelFlush": false, "minExtent": 0}},
  "y": {"field": "l", "type": "quantitative", "scale": {"type": "log", "domain": [36.882, 46.809], "nice": false},
   "axis": {"orient": "right", "offset": -28, "values": [46, 45, 44, 43.5, 43, 42.6, 41.8, 41.4, 41, 40.6, 39.3, 38.7, 38.4, 38.1, 37.8, 37.5, 37.22], "tickCount": 200, "labelExpr": "replace(format(datum.value, '.2f'), '.', ',')", "title": null, "ticks": false, "tickSize": 0, "grid": false, "domainColor": "#c9cbd1", "labelColor": "#131722", "labelFontSize": 6.5, "labelPadding": 4, "labelOverlap": false, "labelFlush": false, "minExtent": 0}},
  "y2": {"field": "h"},
  "color": {"condition": {"test": "datum.c >= datum.o", "value": "#089981"}, "value": "#f23645"}}},
{"data": {"name": "rc"}, "mark": {"type": "bar", "size": 3},
 "encoding": {"x": {"field": "k", "type": "quantitative", "scale": {"domain": [-2.68, 97.09], "nice": false, "zero": false}},
  "y": {"field": "o", "type": "quantitative", "scale": {"type": "log", "domain": [36.882, 46.809], "nice": false}}, "y2": {"field": "c"},
  "color": {"condition": {"test": "datum.c >= datum.o", "value": "#089981"}, "value": "#f23645"}}},
{"data": {"name": "prof"}, "mark": {"type": "rect", "opacity": 0.9},
 "encoding": {"x": {"field": "x0", "type": "quantitative", "scale": {"domain": [-2.68, 97.09], "nice": false, "zero": false}}, "x2": {"field": "x1"},
  "y": {"field": "lo", "type": "quantitative", "scale": {"type": "log", "domain": [36.882, 46.809], "nice": false}}, "y2": {"field": "hi"},
  "fill": {"field": "part", "type": "nominal", "scale": {"domain": ["up", "dn", "upP", "dnP"], "range": ["#2f8ff0", "#f6c344", "#bcd8fa", "#f7e5ac"]}, "legend": null}}},
{"data": {"values": [{}]}, "mark": {"type": "text", "align": "right", "baseline": "bottom", "fontSize": 6.5, "color": "#131722", "text": "оптимистичная цель", "dy": -8},
 "encoding": {"x": {"datum": 89.7, "type": "quantitative", "scale": {"domain": [-2.68, 97.09], "nice": false, "zero": false}}, "y": {"datum": 45.42, "type": "quantitative", "scale": {"type": "log", "domain": [36.882, 46.809], "nice": false}}}},
{"data": {"values": [{}]}, "mark": {"type": "text", "align": "right", "baseline": "bottom", "fontSize": 6.5, "color": "#131722", "text": "для цены", "dy": -1.5},
 "encoding": {"x": {"datum": 89.7, "type": "quantitative", "scale": {"domain": [-2.68, 97.09], "nice": false, "zero": false}}, "y": {"datum": 45.42, "type": "quantitative", "scale": {"type": "log", "domain": [36.882, 46.809], "nice": false}}}},
{"data": {"name": "rtargets"}, "mark": {"type": "text", "align": "right", "baseline": "bottom", "fontSize": 6.5, "fontStyle": "italic", "color": "#43a047", "text": "Цель", "dy": -9},
 "encoding": {"x": {"datum": 89.7, "type": "quantitative", "scale": {"domain": [-2.68, 97.09], "nice": false, "zero": false}}, "y": {"field": "p", "type": "quantitative", "scale": {"type": "log", "domain": [36.882, 46.809], "nice": false}}}},
{"data": {"name": "rtargets"}, "mark": {"type": "text", "align": "right", "baseline": "bottom", "fontSize": 6.5, "fontStyle": "italic", "color": "#43a047", "text": "для цены", "dy": -2},
 "encoding": {"x": {"datum": 89.7, "type": "quantitative", "scale": {"domain": [-2.68, 97.09], "nice": false, "zero": false}}, "y": {"field": "p", "type": "quantitative", "scale": {"type": "log", "domain": [36.882, 46.809], "nice": false}}}},
{"data": {"values": [{}]}, "mark": {"type": "text", "align": "center", "baseline": "middle", "fontSize": 7.5, "fontStyle": "italic", "fontWeight": "bold", "color": "#5d606b", "text": "медвежий имбаланс"},
 "encoding": {"x": {"datum": 64.4, "type": "quantitative", "scale": {"domain": [-2.68, 97.09], "nice": false, "zero": false}}, "y": {"datum": 42.04, "type": "quantitative", "scale": {"type": "log", "domain": [36.882, 46.809], "nice": false}}}},
{"data": {"values": [{}]}, "mark": {"type": "text", "align": "center", "baseline": "middle", "fontSize": 7.5, "fontStyle": "italic", "fontWeight": "bold", "color": "#5d606b", "text": "(зона сопротивления для цены)"},
 "encoding": {"x": {"datum": 64.4, "type": "quantitative", "scale": {"domain": [-2.68, 97.09], "nice": false, "zero": false}}, "y": {"datum": 41.86, "type": "quantitative", "scale": {"type": "log", "domain": [36.882, 46.809], "nice": false}}}},
{"data": {"values": [{}]}, "mark": {"type": "text", "align": "right", "baseline": "middle", "fontSize": 6.5, "color": "#131722", "text": "уровень с д1"},
 "encoding": {"x": {"datum": 89.9, "type": "quantitative", "scale": {"domain": [-2.68, 97.09], "nice": false, "zero": false}}, "y": {"datum": 39.69, "type": "quantitative", "scale": {"type": "log", "domain": [36.882, 46.809], "nice": false}}}},
{"data": {"values": [{}]}, "mark": {"type": "text", "align": "center", "baseline": "middle", "fontSize": 6, "color": "#131722", "text": "RUB"},
 "encoding": {"x": {"datum": 93.8, "type": "quantitative", "scale": {"domain": [-2.68, 97.09], "nice": false, "zero": false}}, "y": {"datum": 46.61, "type": "quantitative", "scale": {"type": "log", "domain": [36.882, 46.809], "nice": false}}}},
{"data": {"values": [{}]}, "mark": {"type": "text", "align": "left", "baseline": "middle", "fontSize": 5, "color": "#2a2e39", "text": "АЛРОСА ПАО · обыкн. · 1Д · RUS"},
 "encoding": {"x": {"datum": -2.24, "type": "quantitative", "scale": {"domain": [-2.68, 97.09], "nice": false, "zero": false}}, "y": {"datum": 46.61, "type": "quantitative", "scale": {"type": "log", "domain": [36.882, 46.809], "nice": false}}}},
{"data": {"values": [{}]}, "mark": {"type": "text", "align": "left", "baseline": "middle", "fontSize": 5, "color": "#2a2e39", "text": "ОТКР"},
 "encoding": {"x": {"datum": 15.66, "type": "quantitative", "scale": {"domain": [-2.68, 97.09], "nice": false, "zero": false}}, "y": {"datum": 46.61, "type": "quantitative", "scale": {"type": "log", "domain": [36.882, 46.809], "nice": false}}}},
{"data": {"values": [{}]}, "mark": {"type": "text", "align": "left", "baseline": "middle", "fontSize": 5, "color": "#089981", "text": "39,58"},
 "encoding": {"x": {"datum": 18.64, "type": "quantitative", "scale": {"domain": [-2.68, 97.09], "nice": false, "zero": false}}, "y": {"datum": 46.61, "type": "quantitative", "scale": {"type": "log", "domain": [36.882, 46.809], "nice": false}}}},
{"data": {"values": [{}]}, "mark": {"type": "text", "align": "left", "baseline": "middle", "fontSize": 5, "color": "#2a2e39", "text": "МАКС"},
 "encoding": {"x": {"datum": 22.15, "type": "quantitative", "scale": {"domain": [-2.68, 97.09], "nice": false, "zero": false}}, "y": {"datum": 46.61, "type": "quantitative", "scale": {"type": "log", "domain": [36.882, 46.809], "nice": false}}}},
{"data": {"values": [{}]}, "mark": {"type": "text", "align": "left", "baseline": "middle", "fontSize": 5, "color": "#089981", "text": "39,91"},
 "encoding": {"x": {"datum": 25.46, "type": "quantitative", "scale": {"domain": [-2.68, 97.09], "nice": false, "zero": false}}, "y": {"datum": 46.61, "type": "quantitative", "scale": {"type": "log", "domain": [36.882, 46.809], "nice": false}}}},
{"data": {"values": [{}]}, "mark": {"type": "text", "align": "left", "baseline": "middle", "fontSize": 5, "color": "#2a2e39", "text": "МИН"},
 "encoding": {"x": {"datum": 28.86, "type": "quantitative", "scale": {"domain": [-2.68, 97.09], "nice": false, "zero": false}}, "y": {"datum": 46.61, "type": "quantitative", "scale": {"type": "log", "domain": [36.882, 46.809], "nice": false}}}},
{"data": {"values": [{}]}, "mark": {"type": "text", "align": "left", "baseline": "middle", "fontSize": 5, "color": "#089981", "text": "39,55"},
 "encoding": {"x": {"datum": 31.54, "type": "quantitative", "scale": {"domain": [-2.68, 97.09], "nice": false, "zero": false}}, "y": {"datum": 46.61, "type": "quantitative", "scale": {"type": "log", "domain": [36.882, 46.809], "nice": false}}}},
{"data": {"values": [{}]}, "mark": {"type": "text", "align": "left", "baseline": "middle", "fontSize": 5, "color": "#2a2e39", "text": "ЗАКР"},
 "encoding": {"x": {"datum": 34.9, "type": "quantitative", "scale": {"domain": [-2.68, 97.09], "nice": false, "zero": false}}, "y": {"datum": 46.61, "type": "quantitative", "scale": {"type": "log", "domain": [36.882, 46.809], "nice": false}}}},
{"data": {"values": [{}]}, "mark": {"type": "text", "align": "left", "baseline": "middle", "fontSize": 5, "color": "#089981", "text": "39,80"},
 "encoding": {"x": {"datum": 37.85, "type": "quantitative", "scale": {"domain": [-2.68, 97.09], "nice": false, "zero": false}}, "y": {"datum": 46.61, "type": "quantitative", "scale": {"type": "log", "domain": [36.882, 46.809], "nice": false}}}},
{"data": {"values": [{}]}, "mark": {"type": "text", "align": "left", "baseline": "middle", "fontSize": 5, "color": "#089981", "text": "+0,25 (+0,63%)"},
 "encoding": {"x": {"datum": 41.39, "type": "quantitative", "scale": {"domain": [-2.68, 97.09], "nice": false, "zero": false}}, "y": {"datum": 46.61, "type": "quantitative", "scale": {"type": "log", "domain": [36.882, 46.809], "nice": false}}}},
{"data": {"values": [{}]}, "mark": {"type": "text", "align": "left", "baseline": "middle", "fontSize": 5, "color": "#2a2e39", "text": "Объём"},
 "encoding": {"x": {"datum": 49.44, "type": "quantitative", "scale": {"domain": [-2.68, 97.09], "nice": false, "zero": false}}, "y": {"datum": 46.61, "type": "quantitative", "scale": {"type": "log", "domain": [36.882, 46.809], "nice": false}}}},
{"data": {"values": [{}]}, "mark": {"type": "text", "align": "left", "baseline": "middle", "fontSize": 5, "color": "#089981", "text": "1,37M"},
 "encoding": {"x": {"datum": 53.1, "type": "quantitative", "scale": {"domain": [-2.68, 97.09], "nice": false, "zero": false}}, "y": {"datum": 46.61, "type": "quantitative", "scale": {"type": "log", "domain": [36.882, 46.809], "nice": false}}}},
{"data": {"values": [{}]}, "mark": {"type": "text", "align": "left", "baseline": "middle", "fontSize": 5, "color": "#089981", "text": "+0,25 (+0,63%)"},
 "encoding": {"x": {"datum": 56.6, "type": "quantitative", "scale": {"domain": [-2.68, 97.09], "nice": false, "zero": false}}, "y": {"datum": 46.61, "type": "quantitative", "scale": {"type": "log", "domain": [36.882, 46.809], "nice": false}}}},
{"data": {"name": "rtags"}, "mark": {"type": "tick", "orient": "horizontal", "size": 25, "thickness": 7, "opacity": 1},
 "encoding": {"x": {"datum": 93.8, "type": "quantitative", "scale": {"domain": [-2.68, 97.09], "nice": false, "zero": false}},
  "y": {"field": "v", "type": "quantitative", "scale": {"type": "log", "domain": [36.882, 46.809], "nice": false}},
  "color": {"field": "k", "type": "nominal", "scale": {"domain": ["blue", "black", "red", "green", "teal"], "range": ["#2962ff", "#131722", "#f23645", "#4caf50", "#089981"]}, "legend": null}}},
{"data": {"name": "rtags2"}, "mark": {"type": "tick", "orient": "horizontal", "size": 25, "thickness": 13, "opacity": 1},
 "encoding": {"x": {"datum": 93.8, "type": "quantitative", "scale": {"domain": [-2.68, 97.09], "nice": false, "zero": false}},
  "y": {"field": "v", "type": "quantitative", "scale": {"type": "log", "domain": [36.882, 46.809], "nice": false}},
  "color": {"field": "k", "type": "nominal", "scale": {"domain": ["blue", "black", "red", "green", "teal"], "range": ["#2962ff", "#131722", "#f23645", "#4caf50", "#089981"]}, "legend": null}}},
{"data": {"name": "rtags"}, "mark": {"type": "text", "align": "center", "baseline": "middle", "fontSize": 6, "color": "white"},
 "encoding": {"x": {"datum": 93.8, "type": "quantitative", "scale": {"domain": [-2.68, 97.09], "nice": false, "zero": false}},
  "y": {"field": "v", "type": "quantitative", "scale": {"type": "log", "domain": [36.882, 46.809], "nice": false}}, "text": {"field": "txt", "type": "nominal"}}},
{"data": {"name": "rtags2"}, "mark": {"type": "text", "align": "center", "baseline": "middle", "fontSize": 5.5, "color": "white", "lineBreak": "\n", "lineHeight": 6.3},
 "encoding": {"x": {"datum": 93.8, "type": "quantitative", "scale": {"domain": [-2.68, 97.09], "nice": false, "zero": false}},
  "y": {"field": "v", "type": "quantitative", "scale": {"type": "log", "domain": [36.882, 46.809], "nice": false}}, "text": {"field": "txt", "type": "nominal"}}}
]
}
]
},
{
"width": 992, "height": 26,
"layer": [
{"data": {"values": [{}]}, "mark": {"type": "text", "align": "left", "baseline": "middle", "fontSize": 11, "fontWeight": 900, "color": "#ffffff", "text": "TV"},
 "encoding": {"x": {"datum": 0.001, "type": "quantitative", "scale": {"domain": [0, 1]}, "axis": null}, "y": {"datum": 0.5, "type": "quantitative", "scale": {"domain": [0, 1]}, "axis": null}}},
{"data": {"values": [{}]}, "mark": {"type": "text", "align": "left", "baseline": "middle", "fontSize": 9.5, "fontWeight": 600, "color": "#ffffff", "text": "TradingView"},
 "encoding": {"x": {"datum": 0.018, "type": "quantitative", "scale": {"domain": [0, 1]}, "axis": null}, "y": {"datum": 0.5, "type": "quantitative", "scale": {"domain": [0, 1]}, "axis": null}}}
]
}
]
}
